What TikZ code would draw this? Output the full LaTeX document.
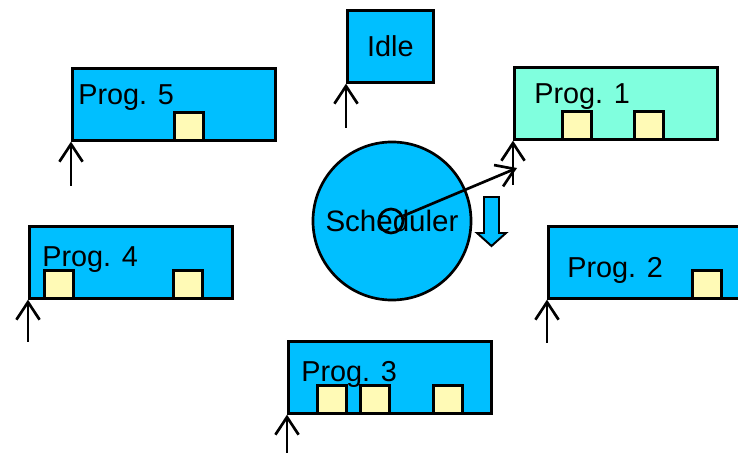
\documentclass[tikz,border=0pt]{standalone}
\usepackage{fontspec}
\setmainfont{Liberation Sans}
\usetikzlibrary{arrows.meta,positioning}
\definecolor{progblue}{RGB}{0,191,255}
\definecolor{progaqua}{RGB}{128,255,222}
\definecolor{jobyellow}{RGB}{255,250,182}

\begin{document}
\begin{tikzpicture}[x=0.025cm,y=-0.025cm,line width=1.9pt,
    >={Straight Barb[length=12.5pt,width=16.5pt]},
    prog/.style={draw,fill=progblue,minimum width=5.075cm,minimum height=1.8cm,
      anchor=north west,inner sep=0pt},
    job/.style={draw,fill=jobyellow,minimum width=0.725cm,minimum height=0.7cm,
      anchor=south west,inner sep=0pt},
    lbl/.style={anchor=base west,inner sep=0pt,font=\fontsize{20.5}{24}\selectfont}]
  \clip (0,0) rectangle (738,453);
  % the five programs and the idle task
  \node[prog,minimum width=2.15cm,font=\fontsize{20.5}{24}\selectfont] (idle) at (346,9) {Idle};
  \node[prog] (p5) at (71,67) {};
  \node[prog,fill=progaqua] (p1) at (513,66) {};
  \node[prog] (p4) at (28,225) {};
  \node[prog] (p2) at (547,225) {};
  \node[prog] (p3) at (287,340) {};
  % jobs waiting in each program
  \node[job] (j5a) at ([xshift=2.55cm]p5.south west) {};
  \node[job] (j1a) at ([xshift=1.2cm]p1.south west) {};
  \node[job] (j1b) at ([xshift=3cm]p1.south west) {};
  \node[job] (j4a) at ([xshift=0.375cm]p4.south west) {};
  \node[job] (j4b) at ([xshift=3.6cm]p4.south west) {};
  \node[job] (j2a) at ([xshift=3.6cm]p2.south west) {};
  \node[job] (j3a) at ([xshift=0.725cm]p3.south west) {};
  \node[job] (j3b) at ([xshift=1.8cm]p3.south west) {};
  \node[job] (j3c) at ([xshift=3.625cm]p3.south west) {};
  \node[lbl] (t5) at (77,105) {Prog. 5};
  \node[lbl] (t1) at (533,104) {Prog. 1};
  \node[lbl] (t4) at (41,266) {Prog. 4};
  \node[lbl] (t2) at (566,277) {Prog. 2};
  \node[lbl] (t3) at (300,381) {Prog. 3};
  % scheduler
  \node[circle,draw,fill=progblue,minimum size=3.95cm,inner sep=0pt,
    font=\fontsize{21}{24}\selectfont] (sched) at (392,221) {Scheduler};
  \node[circle,draw,minimum size=0.6cm,inner sep=0pt] (hub) at (391,221) {};
  \coordinate (tip) at (517,168);
  \draw[fill=progblue,line width=1.4pt] (484,197) -- (499,197) -- (499,233) -- (506,233)
    -- (491.5,246) -- (477,233) -- (484,233) -- cycle;
  % entry points
  \coordinate[below=1.1cm of idle.south west] (ai);
  \coordinate[below=1.1cm of p5.south west] (a5);
  \coordinate[below=1.1cm of p1.south west] (a1);
  \coordinate[below=1.05cm of p4.south west] (a4);
  \coordinate[below=1.08cm of p2.south west] (a2);
  \coordinate[below=1.05cm of p3.south west] (a3);
  \path[->] (hub) edge (tip)
            (ai) edge (idle.south west)
            (a5) edge (p5.south west)
            (a1) edge (p1.south west)
            (a4) edge (p4.south west)
            (a2) edge (p2.south west)
            (a3) edge (p3.south west);
\end{tikzpicture}
\end{document}
